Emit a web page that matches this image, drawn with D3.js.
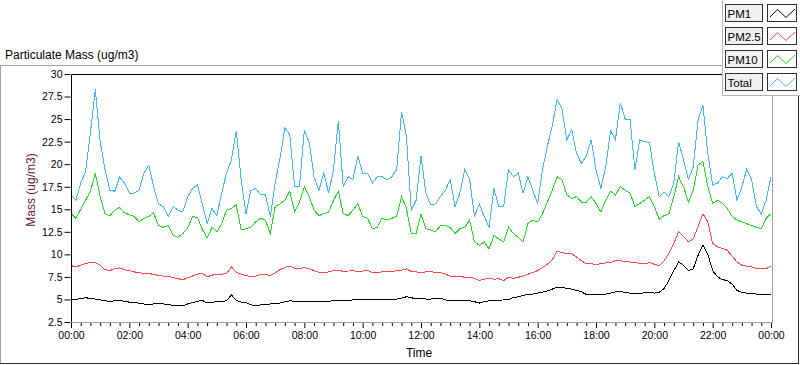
<!DOCTYPE html>
<html>
<head>
<meta charset="utf-8">
<script src="https://cdn.jsdelivr.net/npm/d3@7"></script>
<style>
body{margin:0;background:#fff;}
svg text{font-family:"Liberation Sans",Arial,sans-serif;}
</style>
</head>
<body>
<svg id="chart" width="800" height="365"></svg>
<script>
// one reading every 10 minutes, 00:00 -> 24:00
var stepMinutes = 10;
var seriesNames = ["PM1","PM2.5","PM10","Total"];
var seriesColors = ["#000000","#ff4848","#1ee01e","#40b8f8"];

var pm1 = [5.0,5.0,5.1,5.2,5.1,5.05,4.95,4.85,4.8,4.85,
	4.9,4.8,4.7,4.65,4.6,4.5,4.45,4.5,4.55,4.5,
	4.45,4.35,4.3,4.3,4.5,4.65,4.8,4.9,4.6,4.7,
	4.75,4.75,4.85,5.5,4.9,4.7,4.65,4.4,4.3,4.4,
	4.45,4.5,4.55,4.6,4.75,4.85,4.8,4.75,4.8,4.8,
	4.75,4.8,4.8,4.8,4.85,4.85,4.9,4.9,4.95,5.0,
	5.0,5.0,5.0,5.0,5.0,5.05,5.05,5.05,5.15,5.3,
	5.2,5.05,5.1,5.05,5.05,5.1,5.15,4.95,4.9,4.85,
	4.85,4.85,4.85,4.75,4.6,4.75,4.85,4.9,4.9,4.95,
	5.0,5.2,5.3,5.45,5.55,5.6,5.7,5.8,5.95,6.15,
	6.35,6.3,6.25,6.15,6.0,5.85,5.55,5.5,5.5,5.55,
	5.6,5.7,5.85,5.85,5.8,5.7,5.6,5.65,5.75,5.8,
	5.7,5.8,6.2,7.1,8.2,9.15,8.8,8.2,8.4,9.9,
	11.0,10.0,8.2,7.5,7.2,7.1,6.7,6.0,5.8,5.7,
	5.65,5.6,5.6,5.6,5.6];

var pm25 = [8.76,8.6,8.8,9.0,9.1,9.1,8.8,8.3,8.2,8.4,
	8.5,8.3,8.2,8.05,7.95,7.9,7.85,7.8,7.65,7.6,
	7.55,7.45,7.3,7.2,7.4,7.6,7.8,7.9,7.5,7.7,
	7.8,7.8,7.9,8.6,8.0,7.8,7.65,7.5,7.6,7.75,
	7.8,7.65,7.95,8.3,8.55,8.7,8.45,8.4,8.55,8.4,
	8.2,8.0,8.0,8.05,8.2,8.25,8.1,8.15,8.2,8.1,
	8.15,8.2,8.0,8.0,8.05,8.05,8.05,8.2,8.25,8.4,
	8.1,8.05,8.0,8.05,8.1,8.0,8.0,7.8,7.6,7.55,
	7.6,7.45,7.45,7.35,7.1,7.25,7.35,7.25,7.3,7.1,
	7.45,7.35,7.45,7.6,7.8,8.0,8.2,8.55,8.9,9.4,
	10.35,10.2,10.1,10.05,9.7,9.3,8.95,8.95,8.9,8.95,
	9.05,9.1,9.3,9.3,9.2,9.15,9.1,9.0,8.95,9.1,
	8.9,8.75,9.3,10.1,11.2,12.5,12.0,11.4,11.7,13.1,
	14.5,13.6,11.2,10.85,10.65,10.45,9.8,9.15,8.8,8.7,
	8.6,8.45,8.4,8.4,8.7];

var pm10 = [14.5,14.0,15.0,16.0,17.0,19.0,16.4,14.5,14.3,14.9,
	15.2,14.6,14.4,14.2,13.6,14.0,14.2,14.6,13.2,13.0,
	13.2,12.1,11.9,12.3,12.9,14.2,14.1,12.8,11.8,13.0,
	12.5,13.4,14.9,15.1,15.5,12.7,12.85,13.0,13.6,14.0,
	13.8,12.3,15.3,15.6,16.0,17.0,14.7,15.8,17.5,16.4,
	14.9,14.3,14.5,14.7,16.0,17.0,14.5,14.3,14.9,15.6,
	14.2,14.0,12.85,13.0,14.0,13.8,14.0,14.2,16.4,15.1,
	12.3,12.3,14.5,12.85,12.7,12.5,13.2,13.2,13.0,12.3,
	12.85,13.0,13.8,11.4,11.0,11.4,10.6,12.1,11.7,11.4,
	13.0,12.3,11.9,11.4,13.4,13.8,13.6,14.5,15.8,17.1,
	18.6,18.3,16.6,16.2,16.4,15.8,15.8,16.4,15.65,14.7,
	16.0,17.0,16.6,17.5,17.1,16.8,15.3,15.65,16.0,16.4,
	15.3,13.9,14.3,14.5,16.4,18.6,17.5,15.8,17.1,19.9,
	20.3,17.5,15.65,16.0,15.65,15.1,14.2,13.8,13.6,13.4,
	13.2,13.0,12.85,14.0,14.5];

var total = [16.6,16.0,17.9,19.2,23.5,28.3,22.5,19.4,17.1,17.0,
	18.6,17.9,16.8,16.8,17.1,19.0,19.9,17.5,15.6,15.3,
	14.2,15.3,14.9,14.7,16.4,17.3,17.7,15.6,13.4,15.1,
	14.3,16.8,19.0,20.5,23.7,18.3,14.5,17.1,17.3,16.6,
	16.6,14.2,17.9,20.7,24.0,23.3,17.5,17.5,23.8,22.4,
	18.6,17.1,19.0,16.8,19.4,24.8,17.5,18.6,18.3,20.9,
	19.0,19.0,17.9,18.6,18.6,18.3,18.6,19.4,25.8,23.1,
	14.9,16.0,20.9,16.8,15.5,15.6,16.4,17.1,18.3,15.3,
	16.8,19.4,18.3,14.2,15.6,14.2,13.0,17.3,15.3,15.3,
	19.4,18.6,19.0,16.8,18.6,17.1,15.6,19.4,22.0,24.2,
	27.2,26.1,22.7,23.8,21.2,20.1,20.9,22.7,19.4,17.3,
	19.7,23.7,22.7,26.8,25.0,25.0,19.4,22.7,22.5,22.4,
	19.0,16.4,16.9,16.4,17.9,22.5,20.5,18.3,19.7,24.9,
	26.5,21.2,17.7,17.9,18.6,18.4,19.0,16.0,17.5,19.4,
	18.3,15.3,14.5,16.0,18.6];

var yTicks = [2.5,5,7.5,10,12.5,15,17.5,20,22.5,25,27.5,30];
var xTickMinutes = [0,120,240,360,480,600,720,840,960,1080,1200,1320,1440];
var xTickLabels = ["00:00","02:00","04:00","06:00","08:00","10:00","12:00","14:00","16:00","18:00","20:00","22:00","00:00"];

var allSeries = [pm1,pm25,pm10,total];

var svg = d3.select("#chart");
var plotLeft = 71, plotRight = 772, plotTop = 74, plotBottom = 322;

var x = d3.scaleLinear().domain([0,1440]).range([71,771]);
var y = d3.scaleLinear().domain([2.5,30]).range([plotBottom,plotTop]);

// title and outer frame
svg.append("text").attr("x",5).attr("y",59).attr("font-size",12).attr("fill","#000")
	.text("Particulate Mass (ug/m3)");
svg.append("path").attr("d","M0,65.5H722M0.5,65V364").attr("stroke","#a0a0a0").attr("fill","none");
svg.append("path").attr("d","M0,363.5H799M798.5,95V364").attr("stroke","#303030").attr("fill","none");

// plot frame
svg.append("path").attr("d","M"+(plotLeft+0.5)+","+plotBottom+"V"+(plotTop+0.5)+"H722").attr("stroke","#000").attr("fill","none");
svg.append("path").attr("d","M"+plotLeft+","+(plotBottom+0.5)+"H"+(plotRight+0.5)+"V95").attr("stroke","#a0a0a0").attr("fill","none");

svg.append("clipPath").attr("id","plotclip").append("rect")
	.attr("x",plotLeft+1).attr("y",plotTop+1).attr("width",plotRight-plotLeft-1).attr("height",plotBottom-plotTop-1);

var line = d3.line()
	.x(function(d,i){return x(i*stepMinutes);})
	.y(function(d){return y(d);});

var plots = svg.append("g").attr("clip-path","url(#plotclip)");
allSeries.forEach(function(s,i){
	plots.append("path")
		.datum(s)
		.attr("d",line)
		.attr("fill","none")
		.attr("stroke",seriesColors[i])
		.attr("stroke-width",1)
		.attr("shape-rendering","crispEdges");
});

// y axis
var yAxis = d3.axisLeft(y).tickValues(yTicks).tickSize(6).tickPadding(2)
	.tickFormat(function(d){return String(d);});
var gy = svg.append("g").attr("transform","translate("+(plotLeft-0.5)+",0)").call(yAxis);
gy.select(".domain").remove();
gy.selectAll("text").attr("font-size",10.5).attr("font-family","Liberation Sans, Arial, sans-serif").attr("fill","#000");
gy.selectAll("line").attr("stroke","#000");

// x axis, major + minor ticks
var minorTicks = d3.range(0,1441,20).filter(function(m){return xTickMinutes.indexOf(m)<0;});
var gxMinor = svg.append("g").attr("transform","translate(0,"+(plotBottom+1)+")")
	.call(d3.axisBottom(x).tickValues(minorTicks).tickSize(3).tickFormat(""));
gxMinor.select(".domain").remove();
gxMinor.selectAll("line").attr("stroke","#000");

var xAxis = d3.axisBottom(x).tickValues(xTickMinutes).tickSize(5).tickPadding(4)
	.tickFormat(function(d,i){return xTickLabels[i];});
var gx = svg.append("g").attr("transform","translate(0,"+(plotBottom+1)+")").call(xAxis);
gx.select(".domain").remove();
gx.selectAll("text").attr("font-size",10.5).attr("font-family","Liberation Sans, Arial, sans-serif").attr("fill","#000");
gx.selectAll("line").attr("stroke","#000");

// axis titles
svg.append("text").attr("x",419).attr("y",357).attr("text-anchor","middle")
	.attr("font-size",12).attr("fill","#000").text("Time");
svg.append("text").attr("transform","translate(35,190) rotate(-90)").attr("text-anchor","middle")
	.attr("font-size",12).attr("fill","#701838").text("Mass (ug/m3)");

// legend
var legend = svg.append("g");
legend.append("rect").attr("x",722).attr("y",0).attr("width",78).attr("height",95).attr("fill","#fff");
legend.append("path").attr("d","M722.5,0V95.5H800").attr("stroke","#b4b4b4").attr("fill","none");
seriesNames.forEach(function(name,i){
	var ty = 4 + i*23;
	var row = legend.append("g").attr("transform","translate(0,"+ty+")");
	row.append("rect").attr("x",725.5).attr("y",0.5).attr("width",37).attr("height",17)
		.attr("fill","#f0f0f0").attr("stroke","#303030");
	row.append("text").attr("x",727.5).attr("y",13.5).attr("font-size",11.5).attr("fill","#000").text(name);
	row.append("rect").attr("x",767.5).attr("y",0.5).attr("width",29).attr("height",17)
		.attr("fill","#fff").attr("stroke","#303030");
	row.append("path").attr("d","M770,13L777.5,5.5L786,13.5L795,5")
		.attr("fill","none").attr("stroke",seriesColors[i]).attr("stroke-width",1);
});
</script>
</body>
</html>
